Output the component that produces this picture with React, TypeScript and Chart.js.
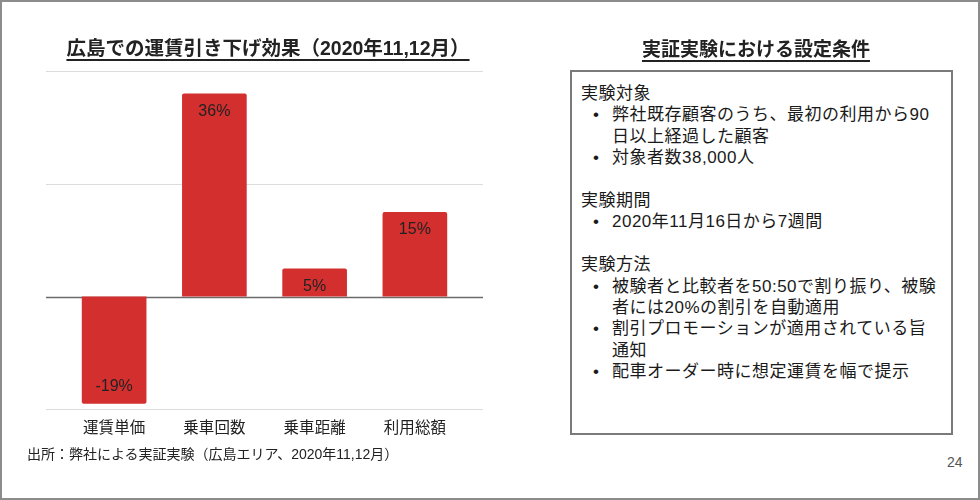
import React, { useEffect, useRef } from "react";
import { Chart, registerables } from "chart.js";

Chart.register(...registerables);

const categories = ["運賃単価", "乗車回数", "乗車距離", "利用総額"];
const values = [-19, 36, 5, 15];
const valueLabels = ["-19%", "36%", "5%", "15%"];
const gridTicks = [40, 20, 0, -20];

const chartTitle = "広島での運賃引き下げ効果（2020年11,12月）";
const panelTitle = "実証実験における設定条件";
const sourceText = "出所：弊社による実証実験（広島エリア、2020年11,12月）";
const pageNumber = "24";

type Line = { kind: "head" | "bullet" | "cont" | "blank"; text?: string };
const panelLines: Line[] = [
  { kind: "head", text: "実験対象" },
  { kind: "bullet", text: "弊社既存顧客のうち、最初の利用から90" },
  { kind: "cont", text: "日以上経過した顧客" },
  { kind: "bullet", text: "対象者数38,000人" },
  { kind: "blank" },
  { kind: "head", text: "実験期間" },
  { kind: "bullet", text: "2020年11月16日から7週間" },
  { kind: "blank" },
  { kind: "head", text: "実験方法" },
  { kind: "bullet", text: "被験者と比較者を50:50で割り振り、被験" },
  { kind: "cont", text: "者には20%の割引を自動適用" },
  { kind: "bullet", text: "割引プロモーションが適用されている旨" },
  { kind: "cont", text: "通知" },
  { kind: "bullet", text: "配車オーダー時に想定運賃を幅で提示" },
];

const FONT = '"Liberation Sans", Arial, "Noto Sans CJK JP", sans-serif';

export default function App() {
  const canvasRef = useRef<HTMLCanvasElement | null>(null);

  useEffect(() => {
    document.body.style.margin = "0";
    const canvas = canvasRef.current;
    if (!canvas) return;

    const gridPlugin = {
      id: "extendedGrid",
      beforeDatasetsDraw(chart: any) {
        const { ctx, chartArea, scales } = chart;
        ctx.save();
        gridTicks.forEach((t) => {
          const y = Math.round(scales.y.getPixelForValue(t)) + 0.5;
          ctx.beginPath();
          ctx.strokeStyle = t === 0 ? "#6b6b6b" : "#dcdcdc";
          ctx.lineWidth = t === 0 ? 1.5 : 1;
          ctx.moveTo(chartArea.left - 18, y);
          ctx.lineTo(chartArea.right + 18, y);
          ctx.stroke();
        });
        ctx.restore();
      },
    };

    const labelPlugin = {
      id: "barValueLabels",
      afterDatasetsDraw(chart: any) {
        const { ctx } = chart;
        const meta = chart.getDatasetMeta(0);
        ctx.save();
        ctx.font = `16px ${FONT}`;
        ctx.fillStyle = "#222222";
        ctx.textAlign = "center";
        ctx.textBaseline = "middle";
        meta.data.forEach((el: any, i: number) => {
          const v = values[i];
          const y = v >= 0 ? el.y + 18 : el.y - 17;
          ctx.fillText(valueLabels[i], el.x, y);
        });
        ctx.restore();
      },
    };

    const chart = new Chart(canvas, {
      type: "bar",
      data: {
        labels: categories,
        datasets: [
          {
            data: values,
            backgroundColor: "#d32f2f",
            borderWidth: 0,
            borderRadius: 2,
            borderSkipped: "start",
            categoryPercentage: 1,
            barPercentage: 0.645,
          },
        ],
      },
      options: {
        animation: false,
        responsive: false,
        maintainAspectRatio: false,
        devicePixelRatio: 1,
        layout: { padding: { top: 71, bottom: 52, left: 64, right: 75 } },
        plugins: {
          legend: { display: false },
          tooltip: { enabled: false },
          title: { display: false },
        },
        scales: {
          x: {
            type: "category",
            offset: true,
            grid: { display: false, drawTicks: false },
            border: { display: false },
            ticks: {
              color: "#222222",
              padding: 10,
              font: { size: 15.5, family: FONT },
              maxRotation: 0,
            },
          },
          y: {
            display: false,
            min: -20,
            max: 40,
          },
        },
      },
      plugins: [gridPlugin, labelPlugin],
    });

    return () => chart.destroy();
  }, []);

  const lineH = 21.4;

  return (
    <div
      style={{
        position: "fixed",
        left: 0,
        top: 0,
        width: 980,
        height: 500,
        boxSizing: "border-box",
        border: "2px solid #8c8c8c",
        background: "#ffffff",
        fontFamily: FONT,
        color: "#222",
        overflow: "hidden",
      }}
    >
      <canvas
        ref={canvasRef}
        width={540}
        height={500}
        style={{ position: "absolute", left: -2, top: -2, width: 540, height: 500 }}
      />
      <div
        style={{
          position: "absolute",
          left: -2,
          top: 34,
          width: 536,
          textAlign: "center",
          fontSize: 19.5,
          fontWeight: "bold",
          lineHeight: "24px",
          textDecoration: "underline",
          textUnderlineOffset: "4px",
          textDecorationThickness: "1.5px",
          whiteSpace: "nowrap",
        }}
      >
        {chartTitle}
      </div>
      <div
        style={{
          position: "absolute",
          left: 556,
          top: 36,
          width: 396,
          textAlign: "center",
          fontSize: 19,
          fontWeight: "bold",
          lineHeight: "24px",
          textDecoration: "underline",
          textUnderlineOffset: "4px",
          textDecorationThickness: "1.5px",
          whiteSpace: "nowrap",
        }}
      >
        {panelTitle}
      </div>
      <div
        style={{
          position: "absolute",
          left: 568,
          top: 68,
          width: 383,
          height: 365,
          boxSizing: "border-box",
          border: "2px solid #7a7a7a",
          fontSize: 17,
          letterSpacing: "0.5px",
          lineHeight: `${lineH}px`,
          color: "#1a1a1a",
        }}
      >
        <div style={{ position: "absolute", left: 9, top: 11, right: 0 }}>
          {panelLines.map((ln, i) => (
            <div
              key={i}
              style={{
                position: "relative",
                height: lineH,
                paddingLeft: ln.kind === "head" ? 0 : 31,
                whiteSpace: "nowrap",
              }}
            >
              {ln.kind === "bullet" && (
                <span style={{ position: "absolute", left: 12 }}>•</span>
              )}
              {ln.text || ""}
            </div>
          ))}
        </div>
      </div>
      <div
        style={{
          position: "absolute",
          left: 25,
          top: 443,
          fontSize: 14,
          lineHeight: "18px",
          whiteSpace: "nowrap",
          color: "#222",
        }}
      >
        {sourceText}
      </div>
      <div
        style={{
          position: "absolute",
          left: 945,
          top: 451,
          fontSize: 14,
          lineHeight: "18px",
          color: "#555",
        }}
      >
        {pageNumber}
      </div>
    </div>
  );
}
